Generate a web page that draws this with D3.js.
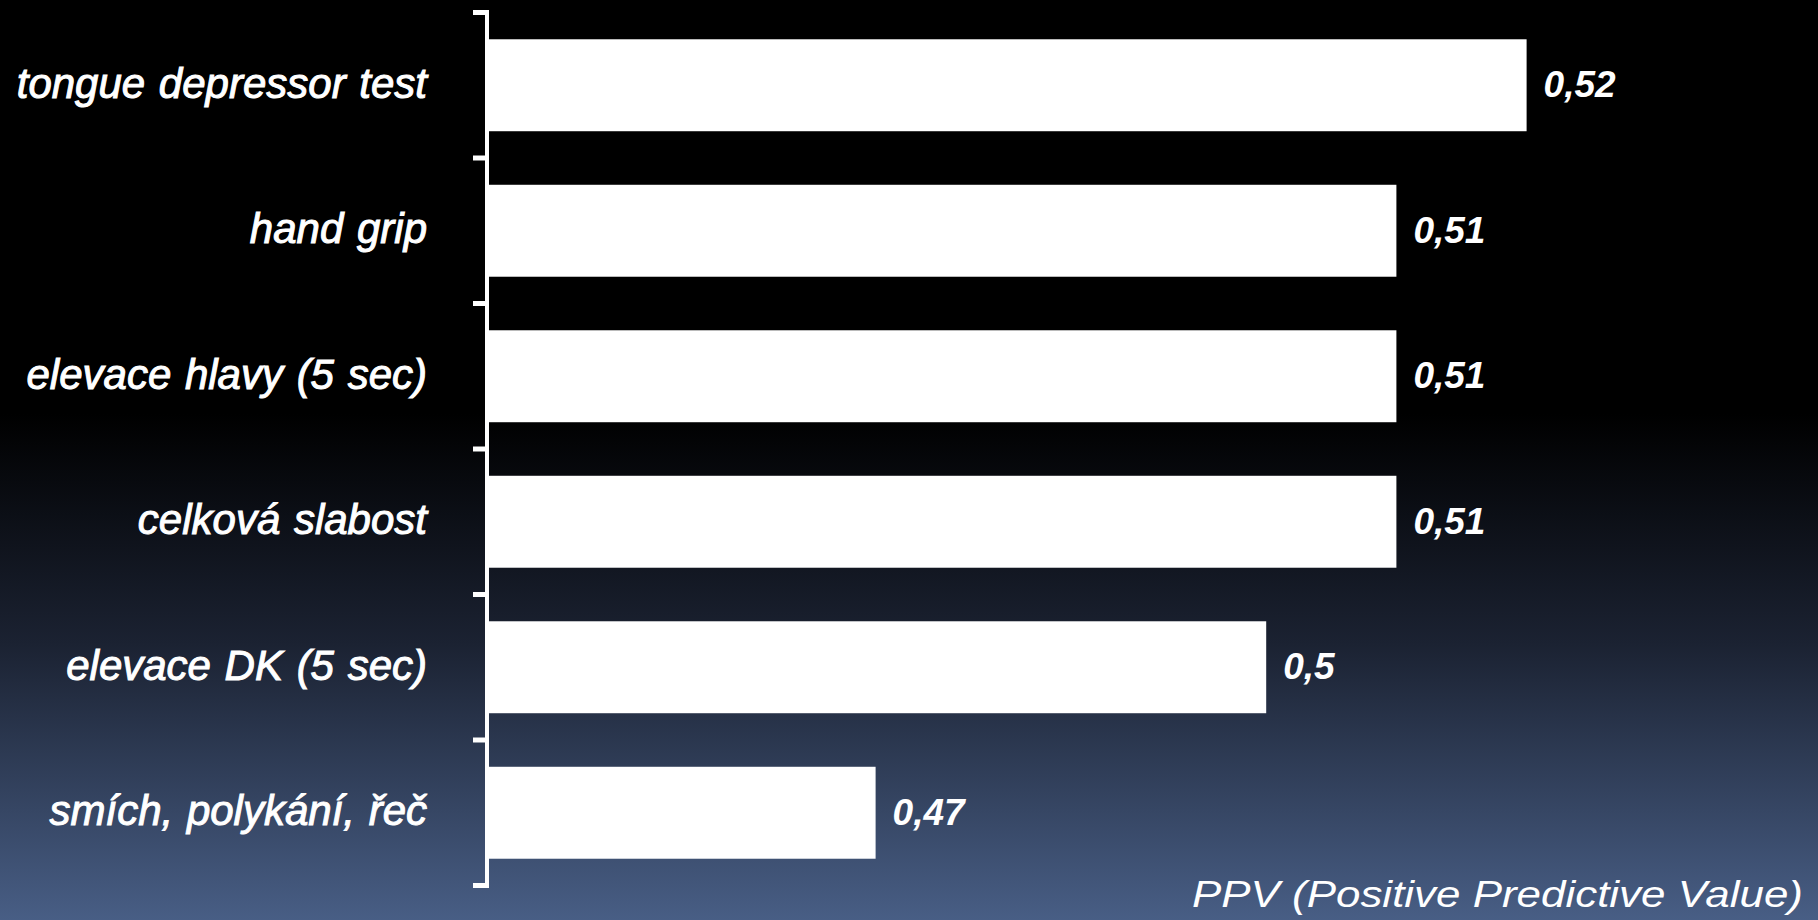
<!DOCTYPE html>
<html>
<head>
<meta charset="utf-8">
<script src="https://cdn.jsdelivr.net/npm/d3@7"></script>
<style>
  html, body { margin: 0; padding: 0; background: #000; overflow: hidden; }
  svg { display: block; }
  text { font-family: "Liberation Sans", Arial, sans-serif; font-style: italic; fill: #fff; }
</style>
</head>
<body>
<svg id="chart" width="1818" height="920"></svg>
<script>
const categories = [
  "tongue depressor test",
  "hand grip",
  "elevace hlavy (5 sec)",
  "celková slabost",
  "elevace DK (5 sec)",
  "smích, polykání, řeč"
];
const values = [0.52, 0.51, 0.51, 0.51, 0.50, 0.47];
const xDomain = [0.44, 0.54];
const axisTitle = "PPV (Positive Predictive Value)";

const W = 1818, H = 920;
const svg = d3.select("#chart");

// background gradient
const defs = svg.append("defs");
const grad = defs.append("linearGradient")
  .attr("id", "bg").attr("x1", 0).attr("y1", 0).attr("x2", 0).attr("y2", 1);
grad.append("stop").attr("offset", "0%").attr("stop-color", "#000000");
grad.append("stop").attr("offset", "45%").attr("stop-color", "#000000");
grad.append("stop").attr("offset", "70%").attr("stop-color", "#1b2232");
grad.append("stop").attr("offset", "100%").attr("stop-color", "#485e85");
svg.append("rect").attr("width", W).attr("height", H).attr("fill", "url(#bg)");

const x = d3.scaleLinear().domain(xDomain).range([485, 1787]);
const y = d3.scaleBand().domain(categories).range([12.5, 885.5])
  .paddingInner(0.368).paddingOuter(0.184);

// bars
svg.append("g").selectAll("rect")
  .data(categories)
  .join("rect")
  .attr("x", x(xDomain[0]))
  .attr("y", d => y(d))
  .attr("width", (d, i) => x(values[i]) - x(xDomain[0]))
  .attr("height", y.bandwidth())
  .attr("fill", "#ffffff");

// category axis (ticks at band boundaries)
const step = y.step();
const boundaries = categories.map(c => y(c) - y.paddingInner() * step / 2);
boundaries.push(boundaries[boundaries.length - 1] + step);
const axisX = 487;
const ax = svg.append("g");
ax.append("line")
  .attr("x1", axisX).attr("x2", axisX)
  .attr("y1", boundaries[0] - 2.5).attr("y2", boundaries[boundaries.length - 1] + 2.5)
  .attr("stroke", "#fff").attr("stroke-width", 4);
ax.selectAll("line.tick")
  .data(boundaries)
  .join("line")
  .attr("class", "tick")
  .attr("x1", 473).attr("x2", axisX + 2)
  .attr("y1", d => d).attr("y2", d => d)
  .attr("stroke", "#fff").attr("stroke-width", 5);

// category labels
svg.append("g").selectAll("text")
  .data(categories)
  .join("text")
  .attr("x", 427)
  .attr("y", d => y(d) + y.bandwidth() / 2)
  .attr("dy", "0.3em")
  .attr("text-anchor", "end")
  .attr("font-size", 42)
  .attr("word-spacing", 2)
  .attr("stroke", "#fff").attr("stroke-width", 1)
  .text(d => d);

// value labels
svg.append("g").selectAll("text")
  .data(categories)
  .join("text")
  .attr("x", (d, i) => x(values[i]) + 17)
  .attr("y", d => y(d) + y.bandwidth() / 2)
  .attr("dy", "0.32em")
  .attr("text-anchor", "start")
  .attr("font-size", 37)
  .attr("font-weight", "bold")
  .text((d, i) => String(values[i]).replace(".", ","));

// axis title
svg.append("text")
  .attr("x", 1803)
  .attr("y", 907)
  .attr("text-anchor", "end")
  .attr("font-size", 36)
  .attr("textLength", 611)
  .attr("lengthAdjust", "spacingAndGlyphs")
  .text(axisTitle);
</script>
</body>
</html>
